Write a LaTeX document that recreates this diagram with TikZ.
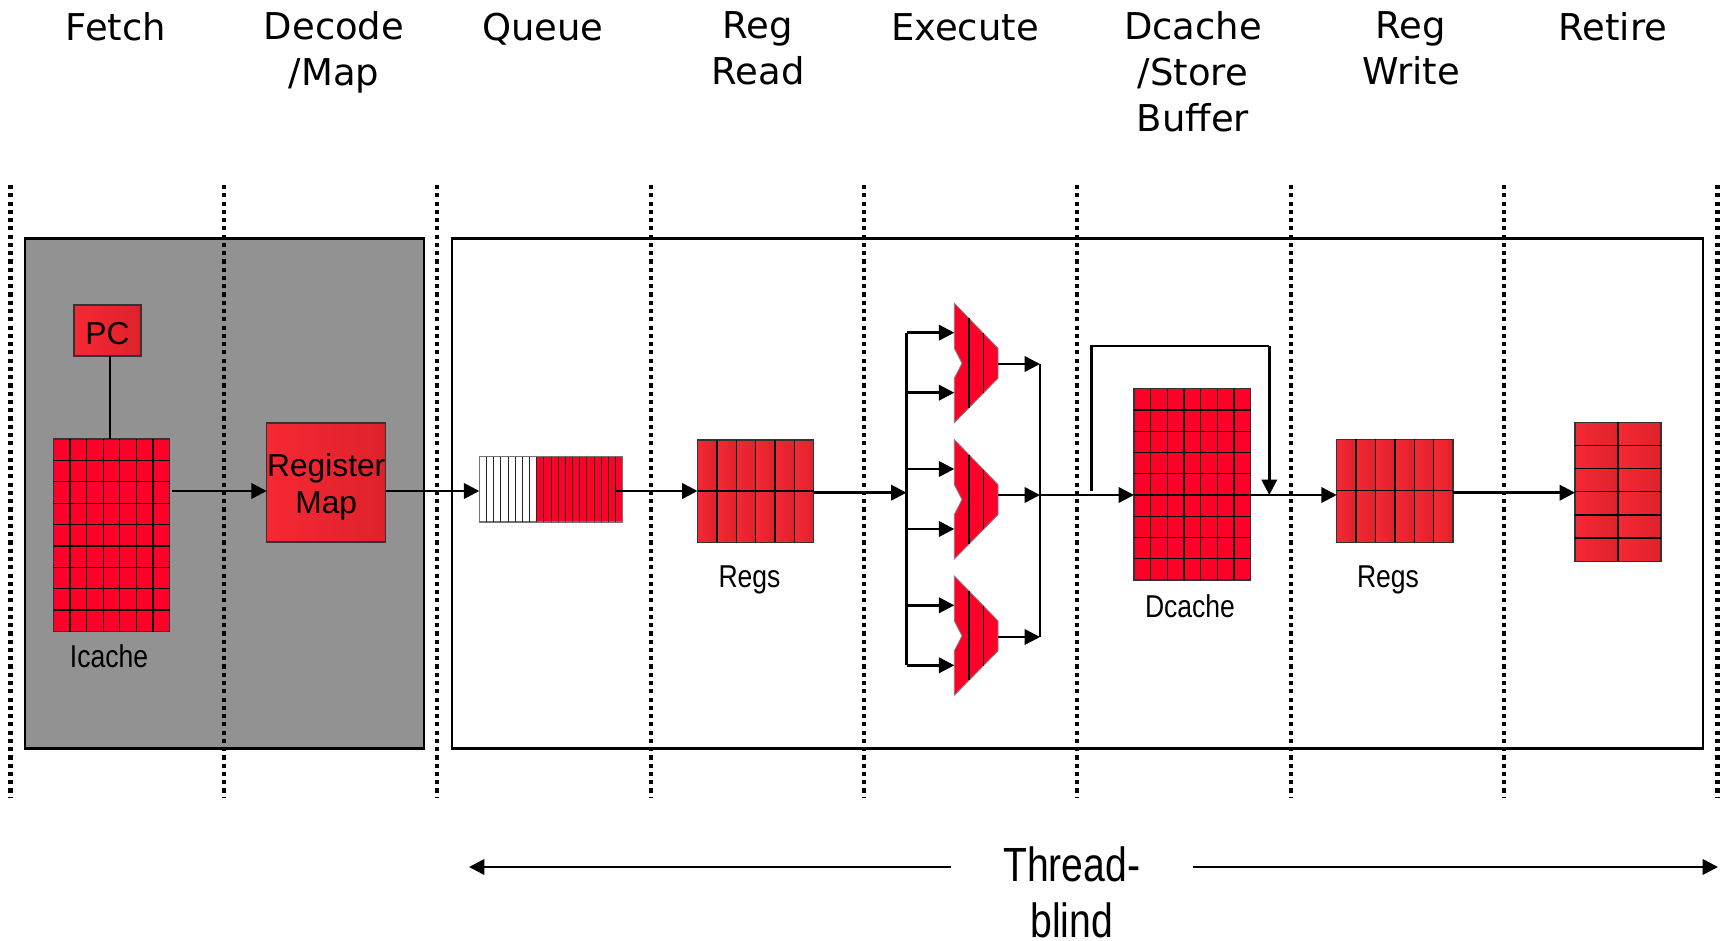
\documentclass[tikz,border=0pt]{standalone}
\usepackage{fontspec}
\setmainfont{DejaVu Sans}
\newfontfamily\arialfont{Liberation Sans}
\newfontfamily\narrowfont[FakeStretch=0.84]{Liberation Sans}
\newfontfamily\threadfont[FakeStretch=0.815]{Liberation Sans}
\usepackage{tikz}
\usetikzlibrary{arrows.meta,positioning}

\definecolor{cellred}{RGB}{255,0,41}
\definecolor{boxredL}{RGB}{246,40,52}
\definecolor{boxredR}{RGB}{222,34,42}
\definecolor{coregray}{RGB}{146,146,146}

\tikzset{
  flow/.style={line width=1.9pt,-{Triangle[length=11.5pt,width=11.5pt]}},
  plainline/.style={line width=1.9pt},
  stagesep/.style={line width=3.2pt,dash pattern=on 3.1pt off 3.1pt},
  stagetext/.style={anchor=north,inner sep=0pt,align=center,font=\fontsize{27.7}{34.5}\selectfont,execute at begin node={\rule{0pt}{.8em}}},
  celltext/.style={inner sep=0pt,font=\narrowfont\fontsize{23.7}{27}\selectfont},
  boxtext/.style={inner sep=0pt,align=center,font=\arialfont\fontsize{23.8}{28}\selectfont},
  cellblock/.style={draw=black!80,line width=1pt,inner sep=0pt,outer sep=0pt},
  cellline/.style={line width=1pt,draw=black},
}

% name, x1, y1, x2, y2, cols, rows, style
\newcommand{\gridblock}[8]{%
  \pgfmathsetmacro{\blockw}{(#4-#2)*.75}
  \pgfmathsetmacro{\blockh}{(#5-#3)*.75}
  \node (#1) [cellblock,#8,minimum width=\blockw pt,minimum height=\blockh pt] at ({(#2+#4)/2},{(#3+#5)/2}) {};
  \foreach \i in {1,...,#6} {
    \pgfmathsetmacro{\cx}{#2+(#4-#2)*\i/#6}
    \ifnum\i<#6 \draw [cellline] (\cx,#3) -- (\cx,#5);\fi
  }
  \foreach \i in {1,...,#7} {
    \pgfmathsetmacro{\cy}{#3+(#5-#3)*\i/#7}
    \ifnum\i<#7 \draw [cellline] (#2,\cy) -- (#4,\cy);\fi
  }
}
% x1, y1, x2, y2, cols
\newcommand{\gradcols}[5]{%
  \foreach \i in {1,...,#5} {
    \pgfmathsetmacro{\ca}{#1+(#3-#1)*(\i-1)/#5}
    \pgfmathsetmacro{\cb}{#1+(#3-#1)*\i/#5}
    \shade [left color=boxredL,right color=boxredR] (\ca,#2) rectangle (\cb,#4);
  }
}

\begin{document}
\begin{tikzpicture}[x=0.75pt,y=0.75pt,yscale=-1,xscale=1]
\useasboundingbox (0,0) rectangle (1725,941);

%Shape: front end panel
\node (frontend) [draw,fill=coregray,line width=2.2pt,inner sep=0pt,outer sep=0pt,minimum width=299.25pt,minimum height=382.5pt] at (224.5,493.5) {};
%Shape: back end panel
\node (backend) [draw,line width=2.2pt,inner sep=0pt,outer sep=0pt,minimum width=938.25pt,minimum height=382.5pt] at (1077.5,493.5) {};

%Straight Lines: stage separators
\foreach \k in {0,...,8} {
  \pgfmathsetmacro{\sx}{10.6+213.35*\k}
  \draw [stagesep] (\sx,185) -- (\sx,798);
}

% Text Node
\draw (116,11) node (fetchtext) [stagetext] {Fetch};
% Text Node
\draw (334,11) node (decodetext) [stagetext] {Decode\\/Map};
% Text Node
\draw (543,11) node (queuetext) [stagetext] {Queue};
% Text Node
\draw (758,11) node (readtext) [stagetext] {Reg\\Read};
% Text Node
\draw (965,11) node (executetext) [stagetext] {Execute};
% Text Node
\draw (1193,11) node (dcachetext) [stagetext] {Dcache\\/Store\\Buffer};
% Text Node
\draw (1411,11) node (writetext) [stagetext] {Reg\\Write};
% Text Node
\draw (1613,11) node (retiretext) [stagetext] {Retire};

%Shape: PC
\node (pc) [cellblock,left color=boxredL,right color=boxredR,minimum width=50.25pt,minimum height=38.25pt] at (107.5,330.5) {};
\draw (107.5,334) node (pctext) [boxtext] {PC};
%Shape: Icache
\gridblock{icache}{53.5}{439}{169.5}{631.5}{7}{9}{fill=cellred}
\draw (109,656) node (icachetext) [celltext] {Icache};
%Shape: Register Map
\node (regmap) [cellblock,left color=boxredL,right color=boxredR,minimum width=89.25pt,minimum height=89.25pt] at (326.25,482.5) {};
\draw (326.25,487) node (regmaptext) [boxtext] {Register\\Map};
%Shape: Queue
\fill [cellred] (536.7,456.7) rectangle (622.7,522);
\begin{scope}[cellline/.style={line width=.65pt,draw=black!85}]
\gridblock{queue}{479.3}{456.7}{622.7}{522}{20}{1}{draw=black!55}
\end{scope}
%Shape: Regs
\gradcols{697.5}{440}{813.5}{542.3}{6}
\gridblock{regsread}{697.5}{440}{813.5}{542.3}{6}{2}{}
\draw (749.5,580) node (regsreadtext) [celltext] {Regs};
%Shape: Dcache
\gridblock{dcache}{1134}{388.7}{1250.6}{580}{7}{9}{fill=cellred}
\draw (1190,606) node (dcachelabel) [celltext] {Dcache};
%Shape: Regs
\gradcols{1336.7}{439.3}{1453}{542.3}{6}
\gridblock{regswrite}{1336.7}{439.3}{1453}{542.3}{6}{2}{}
\draw (1388,580) node (regswritetext) [celltext] {Regs};
%Shape: Retire
\gradcols{1575}{422.3}{1661}{561.3}{2}
\gridblock{retire}{1575}{422.3}{1661}{561.3}{2}{6}{}

%Shape: ALUs
\foreach \m/\dy/\oy in {a/0/364,b/136.3/495,c/272.6/637} {
  \draw [line width=.6pt,draw=black!50,fill=cellred,shift={(0,\dy)}] (954.3,303.3) -- (998,348.3) -- (998,378.3) -- (954.3,422.7) -- (954.3,378.3) -- (962,363.3) -- (954.3,348.3) -- cycle;
  \draw [cellline,line width=.8pt,shift={(0,\dy)}] (969,318.5) -- (969,407.5);
  \draw [cellline,line width=.8pt,shift={(0,\dy)}] (983.3,333.3) -- (983.3,393);
  \coordinate (\m in1) at (954.3,{332.7+\dy});
  \coordinate (\m in2) at (954.3,{392.7+\dy});
  \coordinate (\m out) at (998,\oy);
}

% named rows and buses
\coordinate (rowa) at (0,491);
\coordinate (rowb) at (0,492.7);
\coordinate (rowc) at (0,495);
\coordinate (busin) at (906.5,492.7);
\coordinate (busout) at (1040,495);
\coordinate (loopstart) at (1091.4,491);
\coordinate (looptop) at (1091.4,346);
\coordinate (loopright) at (1269.3,346);
\coordinate (loopend) at (1269.3,495);
\coordinate (queueout) at (615.7,491);

%Straight Lines
\draw [plainline] (pc.south -| 110,0) -- (icache.north -| 110,0);
\draw [flow] ([xshift=2.2pt]icache.east |- rowa) -- (regmap.west |- rowa);
\draw [flow] (regmap.east |- rowa) -- (queue.west |- rowa);
\draw [flow] (queueout) -- (regsread.west |- rowa);
\draw [flow] (regsread.east |- rowb) -- (busin);
\draw [plainline] (busin |- ain1) -- (busin |- cin2);
\foreach \m in {a,b,c} {
  \draw [flow] (busin |- \m in1) -- (\m in1);
  \draw [flow] (busin |- \m in2) -- (\m in2);
  \draw [flow] (\m out) -- (busout |- \m out);
}
\draw [plainline] (busout |- aout) -- (busout |- cout);
\draw [flow] (busout) -- (dcache.west |- rowc);
\draw [plainline] (loopstart) -- (looptop) -- (loopright);
\draw [flow] (loopright) -- (loopend);
\draw [flow] (dcache.east |- rowc) -- (regswrite.west |- rowc);
\draw [flow] (regswrite.east |- rowb) -- (retire.west |- rowb);

% Text Node
\draw (1071.7,892.5) node (threadtext) [inner sep=0pt,align=center,font=\threadfont\fontsize{36}{42}\selectfont] {Thread-\\blind};
\coordinate (threadleft) at (469,867);
\coordinate (threadright) at (1718,867);
\coordinate (threadstartl) at (951,867);
\coordinate (threadstartr) at (1193,867);
\draw [flow] (threadstartl) -- (threadleft);
\draw [flow] (threadstartr) -- (threadright);

\end{tikzpicture}
\end{document}
